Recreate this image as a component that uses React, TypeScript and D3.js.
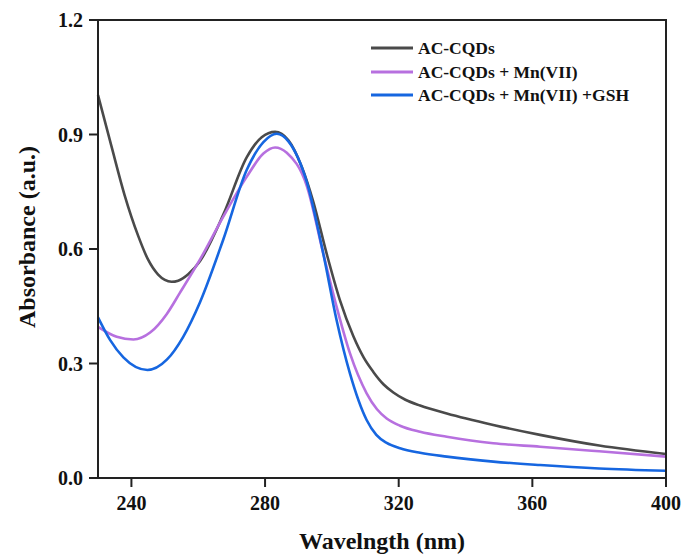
import React from "react";
import * as d3 from "d3";

const W = 684;
const H = 555;
const M = { left: 98, right: 666, top: 20, bottom: 478 };

const xTicks = [240, 280, 320, 360, 400];
const yTicks = [0.0, 0.3, 0.6, 0.9, 1.2];

const seriesNames = ["AC-CQDs", "AC-CQDs + Mn(VII)", "AC-CQDs + Mn(VII) +GSH"];
const seriesColors = ["#4a4a4a", "#b770df", "#1666e0"];

const cqdWl = [230, 234, 238, 242, 245, 248, 250, 252, 254, 257, 260.5, 267.5, 274.5, 279, 283, 287, 291, 294.4, 298.4, 302.4, 306.4, 309.5, 312.4, 315.5, 318.4, 322, 326.4, 334.4, 348.3, 362.3, 380, 400];
const cqdAbs = [1.003, 0.87, 0.74, 0.635, 0.572, 0.533, 0.519, 0.514, 0.517, 0.534, 0.568, 0.69, 0.84, 0.893, 0.907, 0.885, 0.815, 0.725, 0.589, 0.466, 0.372, 0.316, 0.278, 0.245, 0.224, 0.205, 0.19, 0.169, 0.139, 0.113, 0.085, 0.063];

const mnWl = [230, 235.6, 240.6, 245.6, 250.6, 254.5, 260.5, 267.5, 274.5, 279.5, 283, 286.5, 292.5, 297.4, 301.4, 305.4, 310.4, 313.5, 316.4, 320.4, 326.4, 334.4, 348.3, 362.3, 380, 400];
const mnAbs = [0.396, 0.37, 0.363, 0.381, 0.43, 0.485, 0.572, 0.685, 0.789, 0.85, 0.866, 0.852, 0.765, 0.589, 0.449, 0.327, 0.222, 0.18, 0.156, 0.137, 0.121, 0.108, 0.091, 0.082, 0.07, 0.056];

const gshWl = [230, 233.6, 237.6, 244.8, 250.6, 255.5, 260.5, 267.5, 274.5, 279.5, 283.5, 287, 292.5, 297.4, 301.4, 305.4, 310.4, 313.3, 316.4, 320.4, 326.4, 334.4, 348.3, 362.3, 380, 400];
const gshAbs = [0.421, 0.362, 0.316, 0.283, 0.31, 0.37, 0.46, 0.625, 0.807, 0.88, 0.902, 0.882, 0.775, 0.589, 0.414, 0.274, 0.152, 0.113, 0.092, 0.078, 0.066, 0.056, 0.043, 0.034, 0.025, 0.019];

const seriesWl = [cqdWl, mnWl, gshWl];
const seriesAbs = [cqdAbs, mnAbs, gshAbs];

const FONT = "'Liberation Serif', 'Times New Roman', serif";

export default function App() {
  const x = d3.scaleLinear().domain([230, 400]).range([M.left, M.right]);
  const y = d3.scaleLinear().domain([0, 1.2]).range([M.bottom, M.top]);
  const line = d3
    .line<[number, number]>()
    .x((d) => x(d[0]))
    .y((d) => y(d[1]))
    .curve(d3.curveMonotoneX);

  const legendX = 371;
  const legendY = [48, 72, 95];

  return (
    <svg
      width={W}
      height={H}
      style={{ position: "absolute", left: 0, top: 0, background: "#fff" }}
      fontFamily={FONT}
      fontWeight="bold"
    >
      <rect x={0} y={0} width={W} height={H} fill="#fff" />
      {seriesWl.map((wl, i) => (
        <path
          key={i}
          d={line(wl.map((w, j) => [w, seriesAbs[i][j]] as [number, number])) || ""}
          fill="none"
          stroke={seriesColors[i]}
          strokeWidth={2.6}
          strokeLinejoin="round"
        />
      ))}
      {/* frame */}
      <rect
        x={M.left}
        y={M.top}
        width={M.right - M.left}
        height={M.bottom - M.top}
        fill="none"
        stroke="#222"
        strokeWidth={2}
      />
      {/* y ticks */}
      {yTicks.map((t) => (
        <g key={t}>
          <line x1={M.left - 9} x2={M.left} y1={y(t)} y2={y(t)} stroke="#222" strokeWidth={2} />
          <text x={M.left - 15} y={y(t)} dy="0.35em" textAnchor="end" fontSize={20} fill="#111">
            {t.toFixed(1)}
          </text>
        </g>
      ))}
      {/* x ticks */}
      {xTicks.map((t) => (
        <g key={t}>
          <line x1={x(t)} x2={x(t)} y1={M.bottom} y2={M.bottom + 9} stroke="#222" strokeWidth={2} />
          <text x={x(t)} y={M.bottom + 32} textAnchor="middle" fontSize={20} fill="#111">
            {t}
          </text>
        </g>
      ))}
      <text x={(M.left + M.right) / 2} y={549} textAnchor="middle" fontSize={24} fill="#111">
        Wavelngth (nm)
      </text>
      <text
        transform={`translate(35, 237) rotate(-90)`}
        textAnchor="middle"
        fontSize={24}
        fill="#111"
      >
        Absorbance (a.u.)
      </text>
      {/* legend */}
      {seriesNames.map((n, i) => (
        <g key={n}>
          <line
            x1={legendX}
            x2={legendX + 42}
            y1={legendY[i]}
            y2={legendY[i]}
            stroke={seriesColors[i]}
            strokeWidth={3}
          />
          <text x={legendX + 47} y={legendY[i]} dy="0.35em" fontSize={17.5} fill="#111">
            {n}
          </text>
        </g>
      ))}
    </svg>
  );
}
